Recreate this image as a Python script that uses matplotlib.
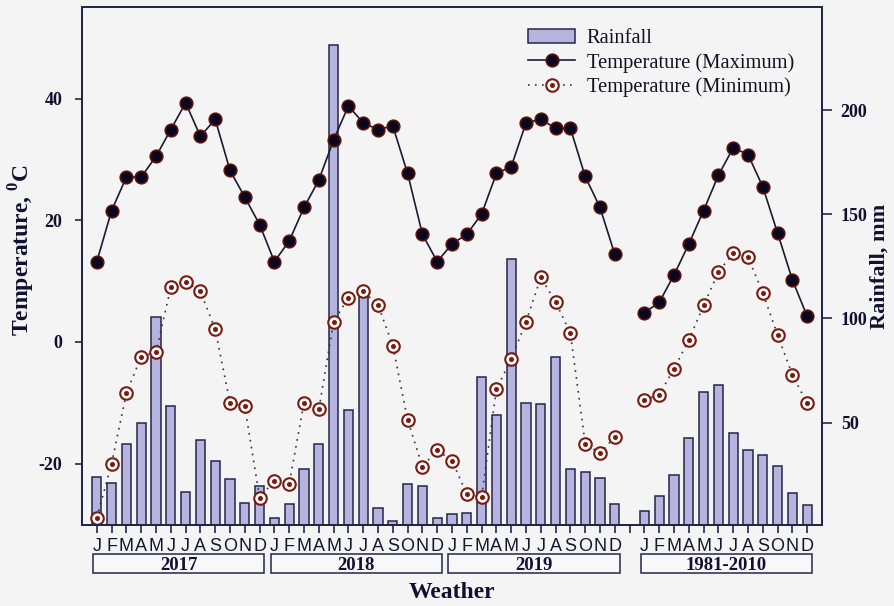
import matplotlib
matplotlib.use("Agg")
import matplotlib.pyplot as plt
from matplotlib.patches import Rectangle
from matplotlib.legend_handler import HandlerTuple
import matplotlib.transforms as mtransforms

plt.rcParams['mathtext.fontset'] = 'custom'
plt.rcParams['mathtext.rm'] = 'Liberation Serif'
plt.rcParams['mathtext.bf'] = 'Liberation Serif:bold'
plt.rcParams['axes.unicode_minus'] = False

# ---------------- data ----------------
months = ["J", "F", "M", "A", "M", "J", "J", "A", "S", "O", "N", "D"]
groups = ["2017", "2018", "2019", "1981-2010"]

rain_2017 = [23.9, 20.8, 39.6, 50.0, 100.9, 58.0, 16.4, 41.6, 31.4, 23.1, 11.4, 19.7]
rain_2018 = [3.9, 10.9, 27.9, 39.9, 231.2, 55.9, 110.3, 8.7, 2.9, 20.4, 19.4, 4.2]
rain_2019 = [6.1, 6.4, 71.8, 53.4, 128.8, 59.6, 58.9, 81.7, 27.9, 26.3, 23.4, 10.9]
rain_norm = [7.4, 14.6, 24.8, 42.5, 64.9, 67.9, 45.2, 36.8, 34.6, 29.2, 16.2, 10.3]

tmax_2017 = [13.2, 21.6, 27.1, 27.1, 30.5, 34.9, 39.3, 33.8, 36.6, 28.2, 23.8, 19.3]
tmax_2018 = [13.2, 16.6, 22.1, 26.6, 33.2, 38.8, 36.0, 34.9, 35.5, 27.7, 17.7, 13.2]
tmax_2019 = [16.1, 17.7, 21.0, 27.7, 28.8, 36.0, 36.6, 35.1, 35.1, 27.2, 22.1, 14.4]
tmax_norm = [4.8, 6.5, 11.0, 16.1, 21.6, 27.4, 31.9, 30.8, 25.5, 17.9, 10.2, 4.2]

tmin_2017 = [-28.9, -20.0, -8.4, -2.4, -1.7, 9.0, 9.9, 8.3, 2.1, -10.0, -10.6, -25.6]
tmin_2018 = [-22.8, -23.3, -10.0, -11.1, 3.3, 7.3, 8.3, 6.1, -0.6, -12.8, -20.5, -17.8]
tmin_2019 = [-19.5, -25.0, -25.5, -7.8, -2.8, 3.3, 10.6, 6.6, 1.4, -16.7, -18.3, -15.6]
tmin_norm = [-9.5, -8.7, -4.4, 0.3, 6.0, 11.5, 14.6, 13.9, 8.1, 1.1, -5.4, -10.1]

# ---------------- positions ----------------
n = len(months)
x_obs = list(range(3 * n))               # 2017-2019 consecutive
x_norm = [3 * n + 1 + i for i in range(n)]  # gap before the normals
rain_obs = rain_2017 + rain_2018 + rain_2019
tmax_obs = tmax_2017 + tmax_2018 + tmax_2019
tmin_obs = tmin_2017 + tmin_2018 + tmin_2019

# ---------------- style ----------------
bg = "#f4f4f4"
navy = "#25254a"
bar_fill = "#b4b4de"
red = "#7a1a0e"

fig = plt.figure(figsize=(8.94, 6.06), dpi=100, facecolor=bg)
ax = fig.add_axes([82 / 894, 1 - 524.5 / 606, 740 / 894, 517.2 / 606])
ax2 = ax.twinx()
ax.set_zorder(ax2.get_zorder() + 1)
ax.patch.set_visible(False)
ax2.set_facecolor(bg)

# bars (rainfall)
bars = ax2.bar(x_obs + x_norm, rain_obs + rain_norm, width=0.62,
               color=bar_fill, edgecolor=navy, linewidth=1.1, label="Rainfall")
ax2.set_ylim(1, 249.5)
ax2.set_yticks([50, 100, 150, 200])

# temperature lines
mk = dict(marker="o", markersize=9, markerfacecolor="#0b0620",
          markeredgecolor="#5a1208", markeredgewidth=1.2)
lmax, = ax.plot(x_obs, tmax_obs, color="#1a1a30", lw=1.2, **mk)
ax.plot(x_norm, tmax_norm, color="#1a1a30", lw=1.2, **mk)

mk2 = dict(marker="o", markersize=9, markerfacecolor="white",
           markeredgecolor=red, markeredgewidth=1.5)
lmin, = ax.plot(x_obs, tmin_obs, color="#303040", lw=1.2,
                linestyle=(0, (1, 3.2)), **mk2)
ax.plot(x_norm, tmin_norm, color="#303040", lw=1.2,
        linestyle=(0, (1, 3.2)), **mk2)
dmin, = ax.plot(x_obs, tmin_obs, linestyle="none", marker="o",
                markersize=2.6, color=red)
ax.plot(x_norm, tmin_norm, linestyle="none", marker="o",
        markersize=2.6, color=red)

ax.set_xlim(-1, 49)
ax.set_ylim(-30, 55)
ax.set_yticks([-20, 0, 20, 40])

# x ticks
ticks = list(range(3 * n + 1 + n))
labels = months * 3 + [""] + months
ax.set_xticks(ticks)
ax.set_xticklabels(labels, fontfamily="Liberation Sans", fontsize=13)
ax.tick_params(axis="x", length=6, width=1.2, color=navy, pad=4,
               labelcolor="#151530")
ax.tick_params(axis="y", length=5, width=1.2, color=navy, pad=9,
               labelsize=13, labelcolor="#101030")
ax2.tick_params(axis="y", length=7, width=1.2, color=navy, pad=6.5,
                labelsize=13, labelcolor="#101030")
for lab in ax.get_yticklabels() + ax2.get_yticklabels():
    lab.set_fontfamily("Liberation Serif")
    lab.set_fontweight("bold")

for a in (ax, ax2):
    for s in a.spines.values():
        s.set_color(navy)
        s.set_linewidth(1.4)

# axis labels
ax.set_ylabel(r"Temperature, $^{\mathbf{0}}$C", fontfamily="Liberation Serif",
              fontweight="bold", fontsize=17, color="#101030")
ax.yaxis.set_label_coords(-0.061, 0.53)
ax2.set_ylabel("Rainfall, mm", fontfamily="Liberation Serif",
               fontweight="bold", fontsize=16, color="#101030", rotation=90)
ax2.yaxis.set_label_coords(1.0645, 0.50)

fig.text(452 / 894, 1 - 593 / 606, "Weather", ha="center", va="center",
         fontfamily="Liberation Serif", fontweight="bold", fontsize=17,
         color="#101030")

# year boxes
trans = mtransforms.blended_transform_factory(ax.transData, ax.transAxes)
starts = [x_obs[0], x_obs[n], x_obs[2 * n], x_norm[0]]
for g, s in zip(groups, starts):
    x0 = s - 0.25
    x1 = s + n - 1 + 0.33
    r = Rectangle((x0, -0.0932), x1 - x0, 0.0362, transform=trans,
                  facecolor="#f8f8fb", edgecolor=navy, linewidth=1.1,
                  clip_on=False)
    ax.add_patch(r)
    ax.text((x0 + x1) / 2, -0.0785, g, transform=trans, ha="center",
            va="center", fontfamily="Liberation Serif", fontweight="bold",
            fontsize=13.5, color="#101030")

# legend
leg = ax.legend([bars, lmax, (lmin, dmin)],
                ["Rainfall", "Temperature (Maximum)", "Temperature (Minimum)"],
                handler_map={tuple: HandlerTuple(ndivide=1)},
                loc="upper left", bbox_to_anchor=(0.603, 0.958), frameon=False,
                prop={"family": "Liberation Serif", "size": 14.8},
                handlelength=2.3, handletextpad=0.55, labelspacing=0.22,
                borderpad=0, borderaxespad=0)
for t in leg.get_texts():
    t.set_color("#101020")

fig.savefig("out.png", dpi=100, facecolor=bg)
